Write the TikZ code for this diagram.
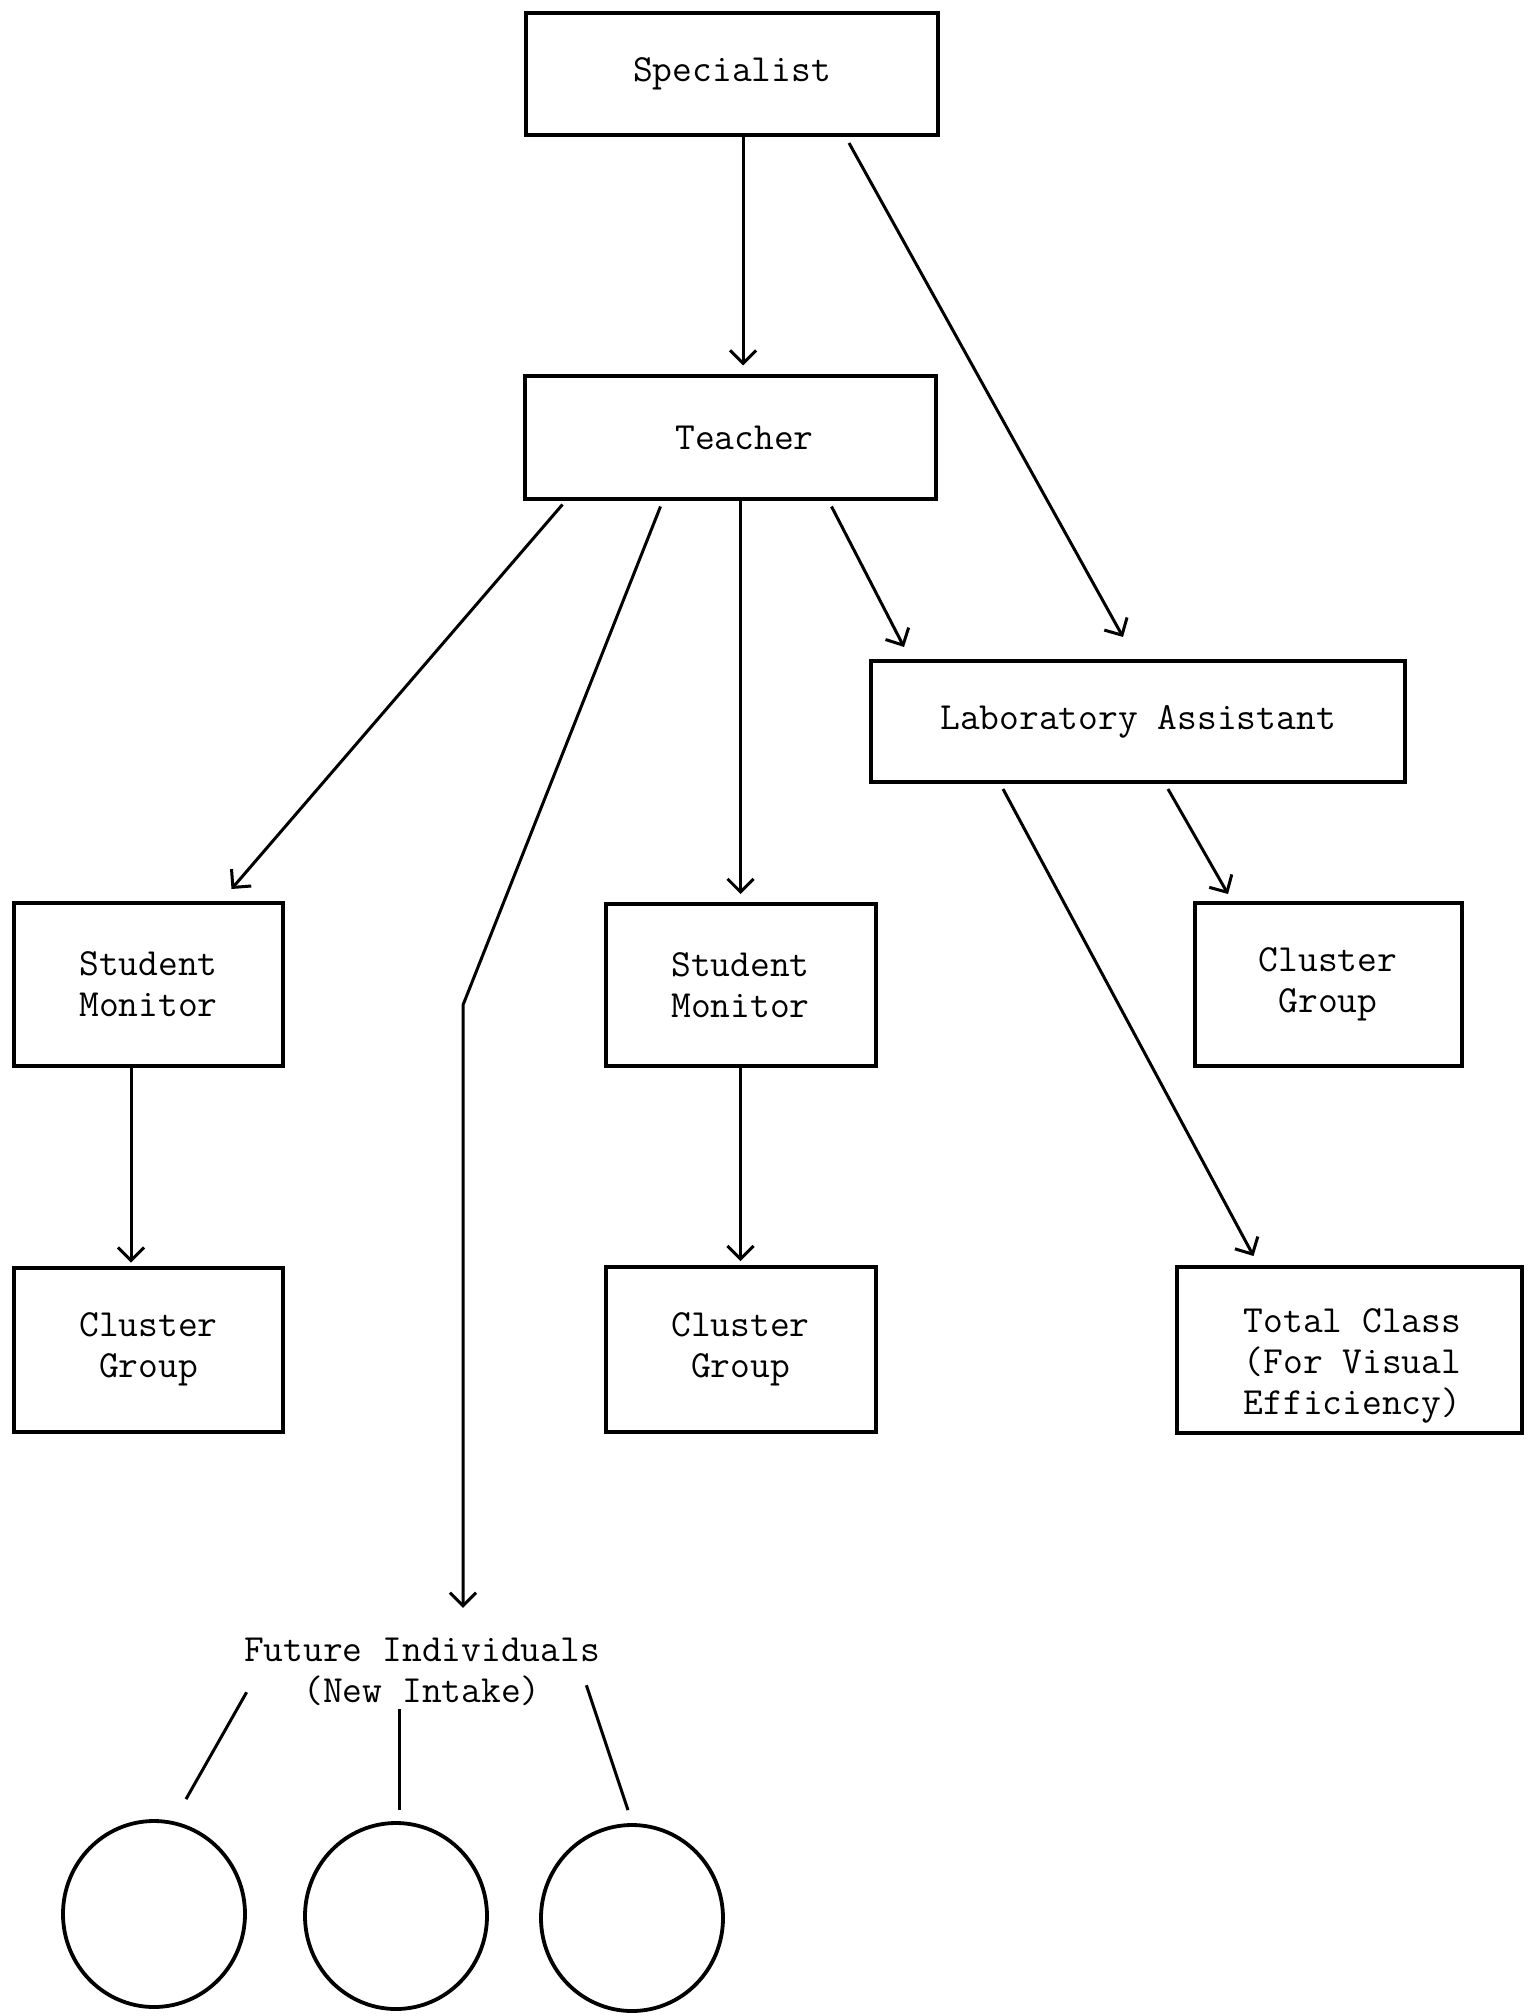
\documentclass[tikz,border=0pt]{standalone}
\usepackage{fontspec}
\usetikzlibrary{arrows.meta,calc,shapes.geometric}
\tikzset{
  tw/.style={font=\fontsize{19.2pt}{20.5pt}\selectfont\ttfamily\addfontfeature{FakeBold=0.8}},
  box/.style={draw, line width=2pt, inner sep=0pt, align=center, tw},
  plain/.style={inner sep=0pt, align=center, tw},
  arr/.style={line width=1.5pt, -{Straight Barb[length=6.5pt,width=13pt]}},
  ln/.style={line width=1.5pt},
  circ/.style={draw, ellipse, line width=1.9pt, minimum width=91pt, minimum height=93pt, inner sep=0pt},
}
\begin{document}
\begin{tikzpicture}[x=0.5pt,y=-0.5pt]
\useasboundingbox (0,0) rectangle (1528,2016);
% boxes
\node[box, minimum width=206pt,   minimum height=61pt]   (spec)    at (732,74)      {Specialist};
\node[box, minimum width=205.5pt, minimum height=61pt]   (teacher) at (730.5,437.5) {\hspace*{14pt}Teacher};
\node[box, minimum width=267pt,   minimum height=60.5pt] (lab)     at (1138,721.5)  {Laboratory Assistant};
\node[box, minimum width=134.5pt, minimum height=81.5pt] (sm1)     at (148.5,984.5) {Student\\Monitor};
\node[box, minimum width=135pt,   minimum height=81pt]   (sm2)     at (740.5,985)   {Student\\Monitor};
\node[box, minimum width=133.5pt, minimum height=81.5pt] (cg3)     at (1328,984.5)  {Cluster\\Group};
\node[box, minimum width=134.5pt, minimum height=82pt]   (cg1)     at (148.5,1349.5){Cluster\\Group};
\node[box, minimum width=135pt,   minimum height=82.5pt] (cg2)     at (740.5,1349.5){Cluster\\Group};
\node[box, minimum width=172.5pt, minimum height=83pt]   (total)   at (1349.5,1350) {};
\node[plain] (totaltxt) at ($(total.center)+(3,16)$) {Total Class\\(For Visual\\Efficiency)};
\node[plain] (fut) at (422,1672) {Future Individuals\\(New Intake)};
% circles
\node[circ] (c1) at (154,1914) {};
\node[circ] (c2) at (396,1916) {};
\node[circ] (c3) at (632,1918) {};
% helper points
\coordinate (bend) at (463,1005);
% connectors
\draw[arr] ($(spec.south)+(11,0)$) -- ($(teacher.north)+(12.5,-9)$);
\draw[arr] ($(spec.south)+(117,6)$) -- ($(lab.north)+(-15,-22)$);
\draw[arr] ($(teacher.south)+(-168,4)$) -- ($(sm1.north)+(83,-12)$);
\draw[arr] ($(teacher.south)+(-70,6)$) -- (bend) -- ($(bend |- fut.north)+(0,-30)$);
\draw[arr] (teacher.south -| sm2.north) -- ($(sm2.north)+(0,-8)$);
\draw[arr] ($(teacher.south)+(101,6)$) -- ($(lab.north)+(-234,-12)$);
\draw[arr] ($(lab.south)+(30,5)$) -- ($(cg3.north)+(-100,-7)$);
\draw[arr] ($(lab.south)+(-135,5)$) -- ($(total.north)+(-96,-9)$);
\draw[arr] ($(sm1.south)+(-17.5,0)$) -- ($(cg1.north)+(-17.5,-3)$);
\draw[arr] (sm2.south) -- ($(cg2.north)+(0,-4)$);
% lines to circles
\draw[ln] ($(fut.south west)+(3,-14)$) -- ($(c1.north)+(32,-20)$);
\draw[ln] ($(fut.south)+(-23,3)$) -- ($(c2.north)+(3,-11)$);
\draw[ln] ($(fut.south east)+(-14,-21)$) -- ($(c3.north)+(-4,-13)$);
\end{tikzpicture}
\end{document}
